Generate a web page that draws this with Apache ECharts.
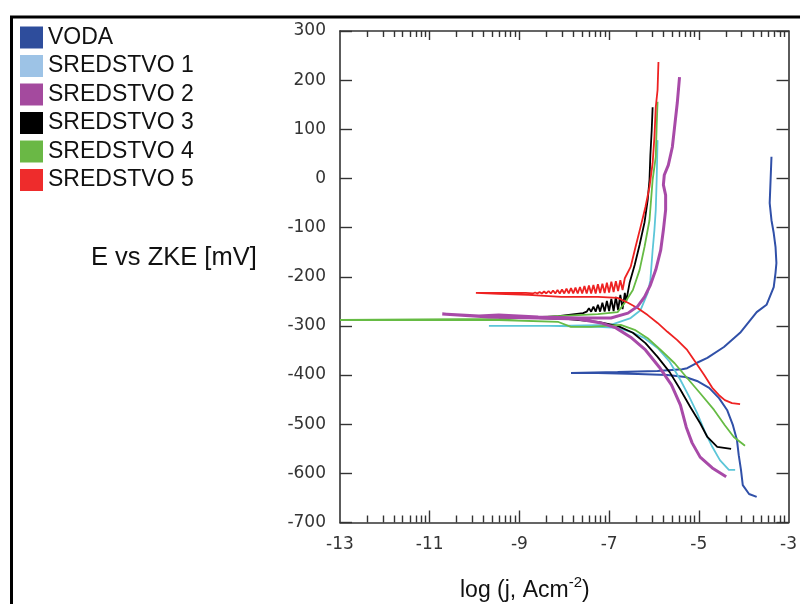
<!DOCTYPE html>
<html><head><meta charset="utf-8">
<script src="https://cdn.jsdelivr.net/npm/echarts@6/dist/echarts.min.js"></script>
<style>html,body{margin:0;padding:0;background:#fff}#c{width:800px;height:604px}</style>
</head><body><div id="c"></div>
<script>
// ---- data (log j vs E in mV) ----
const seriesNames = ['VODA','SREDSTVO 1','SREDSTVO 2','SREDSTVO 3','SREDSTVO 4','SREDSTVO 5'];

const vodaLogJ = [-3.71,-3.88,-4.02,-4.06,-4.11,-4.15,-4.24,-4.37,-4.55,-4.77,-5.04,-5.30,-5.70,-6.36,-7.25,-7.85,
  -6.81,-5.92,-5.37,-5.26,-5.04,-4.81,-4.44,-4.08,-3.71,-3.49,-3.33,-3.29,-3.27,-3.29,-3.33,-3.38,-3.42,-3.40,-3.38];
const vodaE = [-648,-642,-624,-593,-563,-532,-502,-471,-447,-426,-412,-404,-400,-398,-396,-396,
  -394,-392,-388,-386,-375,-365,-343,-314,-272,-257,-221,-192,-172,-139,-111,-85,-50,-3,44];

const s1LogJ = [-4.19,-4.33,-4.53,-4.70,-4.86,-5.04,-5.21,-5.41,-5.65,-5.92,-6.21,-6.52,-6.81,-7.25,-8.35,-9.68,
  -8.13,-6.96,-6.52,-6.30,-6.14,-6.08,-6.03,-5.99,-5.96,-5.94,-5.92];
const s1E = [-593,-593,-573,-546,-516,-477,-445,-410,-373,-345,-325,-312,-304,-302,-300,-300,
  -300,-298,-284,-268,-233,-207,-146,-105,-64,-3,78];

const s2LogJ = [-4.39,-4.70,-4.97,-5.15,-5.28,-5.41,-5.61,-5.88,-6.19,-6.52,-6.85,-7.18,-7.69,-8.58,-9.68,-10.72,
  -9.90,-9.46,-8.58,-7.69,-6.96,-6.58,-6.36,-6.21,-6.08,-5.96,-5.85,-5.79,-5.74,-5.74,-5.79,-5.77,-5.68,-5.59,-5.54,-5.48,-5.43];
const s2E = [-607,-589,-567,-538,-506,-461,-420,-384,-349,-323,-304,-294,-286,-284,-282,-276,
  -280,-278,-282,-284,-284,-274,-260,-241,-217,-186,-146,-105,-64,-34,-13,7,27,64,105,154,206];

const s3LogJ = [-4.28,-4.59,-4.81,-4.97,-5.19,-5.41,-5.65,-5.92,-6.19,-6.47,-6.81,-7.25,-7.91,-8.58,-8.80,
  -8.13,-7.58,-7.50,-7.45,-7.40,-7.35,-7.30,-7.25,-7.20,-7.15,-7.10,-7.05,-7.00,-6.95,-6.90,-6.85,-6.80,-6.75,-6.70,-6.65,-6.62,
  -6.54,-6.43,-6.32,-6.21,-6.14,-6.10,-6.08,-6.05,-6.03];
const s3E = [-550,-546,-526,-498,-465,-430,-394,-363,-335,-314,-300,-292,-286,-284,-284,
  -280,-274,-271,-264,-271,-261,-271,-257,-271,-253,-271,-249,-270,-245,-270,-241,-268,-237,-266,-233,-250,
  -211,-176,-135,-89,-44,-3,48,99,145];

const s4LogJ = [-3.97,-4.22,-4.42,-4.66,-4.97,-5.26,-5.54,-5.85,-6.14,-6.43,-6.74,-7.40,-7.85,-8.13,-9.46,-13.0,
  -9.46,-8.13,-7.25,-6.81,-6.65,-6.47,-6.32,-6.21,-6.10,-6.03,-5.96,-5.94,-5.92];
const s4E = [-544,-526,-502,-471,-437,-406,-376,-349,-325,-308,-298,-302,-302,-292,-288,-288,
  -286,-280,-276,-272,-253,-227,-186,-139,-85,-3,44,105,156];

const s5LogJ = [-4.08,-4.26,-4.42,-4.55,-4.70,-4.88,-5.08,-5.26,-5.48,-5.70,-5.92,-6.14,-6.36,-6.58,-6.81,-7.25,-8.07,-8.80,-9.46,-9.97,
  -8.86,-8.70,-8.65,-8.60,-8.55,-8.50,-8.45,-8.40,-8.35,-8.30,-8.25,-8.20,-8.15,-8.10,-8.05,-8.00,-7.95,-7.90,-7.85,-7.80,-7.75,
  -7.70,-7.65,-7.60,-7.55,-7.50,-7.45,-7.40,-7.35,-7.30,-7.25,-7.20,-7.15,-7.10,-7.05,-7.00,-6.95,-6.90,-6.85,-6.80,-6.75,-6.70,-6.65,
  -6.52,-6.41,-6.30,-6.19,-6.10,-6.03,-5.99,-5.96,-5.92,-5.90];
const s5E = [-459,-457,-451,-441,-426,-400,-373,-349,-329,-312,-294,-278,-264,-253,-243,-241,-241,-237,-235,-233,
  -233,-234,-232,-234,-231,-234,-230,-234,-229,-234,-228,-234,-227,-234,-226,-234,-224,-234,-223,-234,-222,
  -234,-221,-234,-219,-234,-218,-234,-217,-234,-215,-233,-214,-233,-212,-232,-210,-231,-209,-229,-207,-227,-203,
  -180,-139,-99,-58,-17,31,84,145,180,237];

const xTickLabels = [-13,-11,-9,-7,-5,-3];
const yTickLabels = [-700,-600,-500,-400,-300,-200,-100,0,100,200,300];

// ---- chart ----
const logJ = [vodaLogJ,s1LogJ,s2LogJ,s3LogJ,s4LogJ,s5LogJ];
const E = [vodaE,s1E,s2E,s3E,s4E,s5E];
const legendColors = ['#2E4D9C','#9DC3E6','#A44A9E','#000000','#6AB845','#EE2C2C'];
const lineColors = ['#3050A8','#5CC6D8','#A84AA8','#000000','#66BB44','#EE2222'];
const lineWidths = [2,1.8,3,1.8,1.8,1.8];
const zs = [2,2,4,3,3,3];

// log-style minor ticks inside each 2-unit interval
const minorTicks = [];
for (let i = 0; i < xTickLabels.length - 1; i++) {
  for (let k = 2; k <= 9; k++) minorTicks.push(xTickLabels[i] + 2 * Math.log10(k));
}
const majorInner = xTickLabels.slice(1, -1);

const font = 'Liberation Sans, Arial, sans-serif';
const tickFont = 'DejaVu Sans, Verdana, sans-serif';
const axColor = '#333';

function xAx(pos, ticks, len, showLine, labels) {
  return {
    type: 'value', position: pos, min: xTickLabels[0], max: xTickLabels[xTickLabels.length-1], interval: 2,
    axisLine: { show: showLine, onZero: false, lineStyle: { color: axColor, width: 1.6 } },
    axisTick: { show: true, inside: true, length: len, customValues: ticks, lineStyle: { color: axColor, width: 1.4 } },
    axisLabel: labels ? { show: true, color: '#333', fontSize: 17, fontFamily: tickFont, margin: 14,
      customValues: xTickLabels } : { show: false },
    splitLine: { show: false }
  };
}
function yAx(pos, labels) {
  return {
    type: 'value', position: pos, min: yTickLabels[0], max: yTickLabels[yTickLabels.length-1], interval: 100,
    axisLine: { show: true, onZero: false, lineStyle: { color: axColor, width: 1.6 } },
    axisTick: { show: true, inside: true, length: 12, lineStyle: { color: axColor, width: 1.4 } },
    axisLabel: { show: labels, color: '#333', fontSize: 17, fontFamily: tickFont, margin: 14 },
    splitLine: { show: false }
  };
}

const chart = echarts.init(document.getElementById('c'), null, { renderer: 'canvas' });
chart.setOption({
  animation: false,
  backgroundColor: '#fff',
  grid: { left: 340, right: 8, top: 31, bottom: 81.5, containLabel: false },
  xAxis: [
    xAx('bottom', majorInner, 12, true, true),
    xAx('bottom', minorTicks, 7, false, false),
    xAx('top', majorInner, 9, true, false),
    xAx('top', minorTicks, 6, false, false)
  ],
  yAxis: [yAx('left', true), yAx('right', false)],
  legend: {
    orient: 'vertical', left: 15, top: 21, itemWidth: 23, itemHeight: 22, itemGap: 5.5,
    icon: 'rect', data: seriesNames,
    textStyle: { fontSize: 23, lineHeight: 19, fontFamily: font, color: '#111', padding: [3,0,0,0] }
  },
  series: seriesNames.map((n, i) => ({
    name: n, type: 'line', xAxisIndex: 0, yAxisIndex: 0, z: zs[i],
    showSymbol: false, symbol: 'none', clip: true,
    itemStyle: { color: legendColors[i] },
    lineStyle: { color: lineColors[i], width: lineWidths[i] },
    data: logJ[i].map((x, j) => [x, E[i][j]])
  })),
  graphic: [
    { type: 'rect', left: 9, top: 14.5, shape: { width: 820, height: 640 }, style: { fill: 'none', stroke: '#000', lineWidth: 3 }, silent: true },
    { type: 'text', left: 91, top: 245, style: { text: 'E vs ZKE [mV]', fontSize: 25.5, fontFamily: font, fill: '#111' } },
    { type: 'text', left: 460, top: 575, style: {
        text: '{a|log (j, Acm}{s|-2}{a|)}',
        rich: { a: { fontSize: 23, fontFamily: font, fill: '#111', verticalAlign: 'bottom' },
                s: { fontSize: 15, fontFamily: font, fill: '#111', verticalAlign: 'top', padding: [0,0,12,0] } } } }
  ]
});
</script></body></html>
